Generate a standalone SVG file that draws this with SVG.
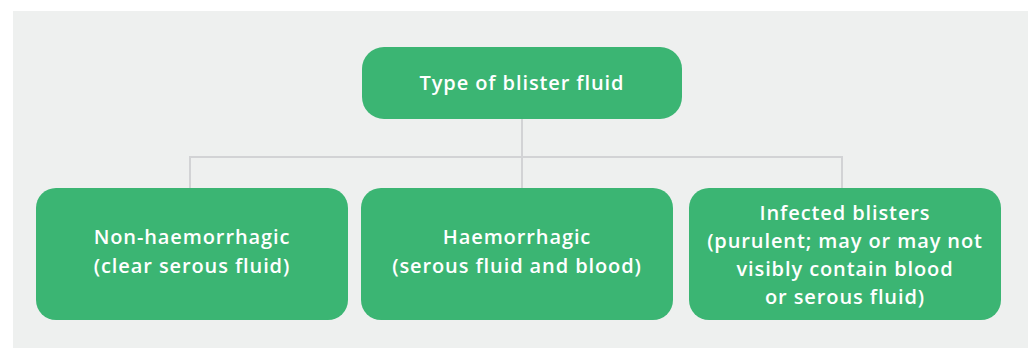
<svg xmlns="http://www.w3.org/2000/svg" width="1032" height="351" viewBox="0 0 1032 351">
<style>
.node{fill:#3bb573}
.t{font-family:"Open Sans","Liberation Sans",sans-serif;font-weight:600;font-size:20px;letter-spacing:0.9px;fill:#ffffff;text-anchor:middle}
.c{stroke:#d2d3d5;stroke-width:2;fill:none}
</style>
<rect x="13" y="11" width="1015" height="337" fill="#eef0ef"/>
<g id="connectors">
<path class="c" d="M522 119 V157 M190 188 V157 H842 V188 M522 157 V188"/>
</g>
<g id="root">
<rect class="node" x="362" y="47" width="320" height="72" rx="22"/>
<text class="t" x="522" y="90">Type of blister fluid</text>
</g>
<g id="non-haemorrhagic">
<rect class="node" x="36" y="188" width="312" height="132" rx="20"/>
<text class="t" x="192" y="244">Non-haemorrhagic</text>
<text class="t" x="192" y="273">(clear serous fluid)</text>
</g>
<g id="haemorrhagic">
<rect class="node" x="361" y="188" width="312" height="132" rx="20"/>
<text class="t" x="517" y="244">Haemorrhagic</text>
<text class="t" x="517" y="273">(serous fluid and blood)</text>
</g>
<g id="infected">
<rect class="node" x="689" y="188" width="312" height="132" rx="20"/>
<text class="t" x="845" y="220">Infected blisters</text>
<text class="t" x="845" y="248">(purulent; may or may not</text>
<text class="t" x="845" y="276">visibly contain blood</text>
<text class="t" x="845" y="304">or serous fluid)</text>
</g>
</svg>
